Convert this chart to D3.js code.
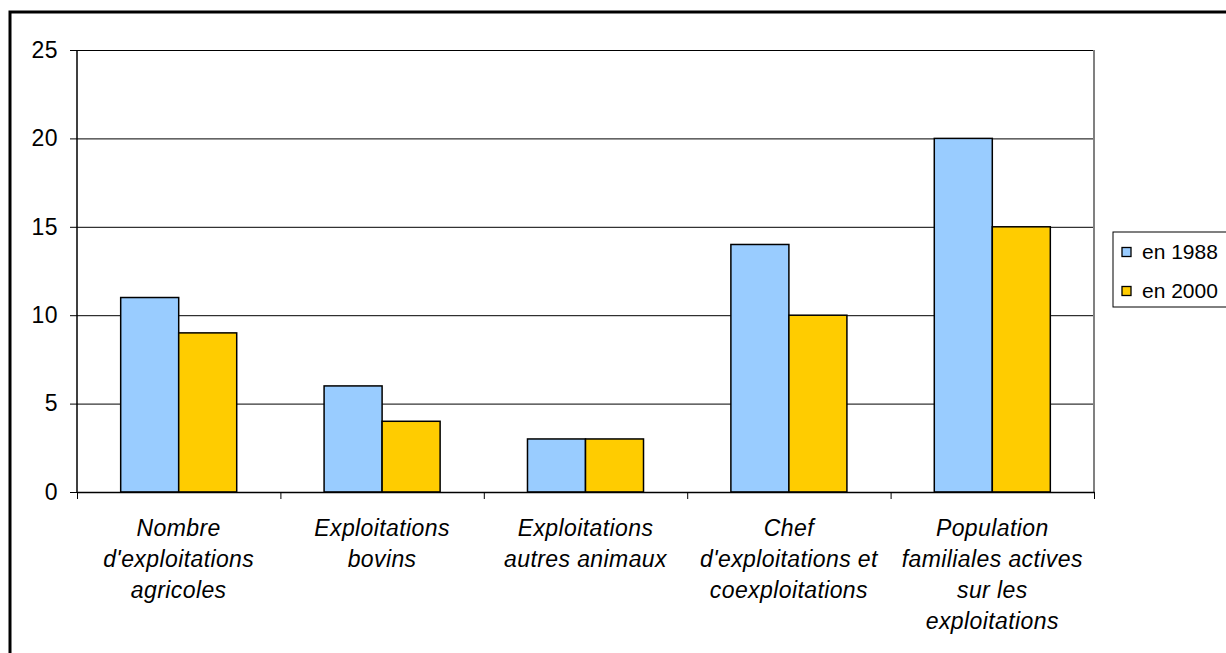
<!DOCTYPE html>
<html>
<head>
<meta charset="utf-8">
<script src="https://d3js.org/d3.v7.min.js"></script>
<style>
body { margin: 0; background: #fff; }
svg { display: block; }
.axis text { font-family: "Liberation Sans", Arial, sans-serif; font-size: 23px; fill: #000; letter-spacing: 0.5px; }
.axis path, .axis line { stroke: #000; }
.grid line { stroke: #000; stroke-width: 1; }
.grid path { display: none; }
.cat { font-family: "Liberation Sans", Arial, sans-serif; font-size: 23px; font-style: italic; fill: #000; letter-spacing: 0.4px; }
.legend text { font-family: "Liberation Sans", Arial, sans-serif; font-size: 21px; fill: #000; }
</style>
</head>
<body>
<svg width="1226" height="653"></svg>
<script>
// data
var categories = ["Nombre d'exploitations agricoles", "Exploitations bovins", "Exploitations autres animaux",
  "Chef d'exploitations et coexploitations", "Population familiales actives sur les exploitations"];
var categoryLines = [
  ["Nombre", "d'exploitations", "agricoles"],
  ["Exploitations", "bovins"],
  ["Exploitations", "autres animaux"],
  ["Chef", "d'exploitations et", "coexploitations"],
  ["Population", "familiales actives", "sur les", "exploitations"]
];
var seriesNames = ["en 1988", "en 2000"];
var values1988 = [11, 6, 3, 14, 20];
var values2000 = [9, 4, 3, 10, 15];
var yTicks = [0, 5, 10, 15, 20, 25];
var colors = ["#99CCFF", "#FFCC00"];

var svg = d3.select("svg");
var plotL = 77, plotR = 1094, plotT = 50, plotB = 492;

// outer frame
svg.append("rect")
  .attr("x", 10).attr("y", 12)
  .attr("width", 1400).attr("height", 800)
  .attr("fill", "none").attr("stroke", "#000").attr("stroke-width", 3);

var x0 = d3.scaleBand().domain(categories).range([plotL, plotR]).padding(0);
var x1 = d3.scaleBand().domain(seriesNames).range([0, x0.step()]).paddingInner(0).paddingOuter(0.753);
var y = d3.scaleLinear().domain([0, 25]).range([plotB, plotT]);

// gridlines
svg.append("g")
  .attr("class", "grid")
  .attr("transform", "translate(" + plotL + ",0)")
  .call(d3.axisLeft(y).tickValues(yTicks).tickSize(-(plotR - plotL)).tickFormat(""));

// plot right border
svg.append("line")
  .attr("x1", plotR).attr("x2", plotR).attr("y1", plotT).attr("y2", plotB)
  .attr("stroke", "#808080").attr("stroke-width", 2);

// bars
var data = categories.map(function(c, i) {
  return {cat: c, vals: [values1988[i], values2000[i]]};
});

var groups = svg.selectAll(".grp").data(data).enter().append("g")
  .attr("class", "grp")
  .attr("transform", d => "translate(" + x0(d.cat) + ",0)");

groups.selectAll("rect")
  .data(d => d.vals.map((v, j) => ({name: seriesNames[j], v: v, j: j})))
  .enter().append("rect")
  .attr("x", d => x1(d.name))
  .attr("y", d => y(d.v))
  .attr("width", x1.bandwidth())
  .attr("height", d => plotB - y(d.v))
  .attr("fill", d => colors[d.j])
  .attr("stroke", "#000")
  .attr("stroke-width", 1.5);

// y axis
var yAxis = svg.append("g")
  .attr("class", "axis")
  .attr("transform", "translate(" + plotL + ",0)")
  .call(d3.axisLeft(y).tickValues(yTicks).tickSize(7).tickPadding(12).tickFormat(d3.format("d")));
yAxis.select(".domain").remove();
svg.append("line")
  .attr("x1", plotL).attr("x2", plotL).attr("y1", plotT).attr("y2", plotB)
  .attr("stroke", "#000").attr("stroke-width", 1.5);

// x axis: ticks at category boundaries
var xb = d3.scaleLinear().domain([0, categories.length]).range([plotL, plotR]);
var xAxis = svg.append("g")
  .attr("class", "axis")
  .attr("transform", "translate(0," + plotB + ")")
  .call(d3.axisBottom(xb).ticks(categories.length).tickSize(7).tickSizeOuter(0).tickFormat(""));
xAxis.select(".domain").attr("stroke-width", 1.5);

// category labels
var labels = svg.selectAll(".cat").data(categories).enter().append("text")
  .attr("class", "cat")
  .attr("text-anchor", "middle")
  .attr("x", d => x0(d) + x0.bandwidth() / 2)
  .attr("y", 536);
labels.selectAll("tspan")
  .data((d, i) => categoryLines[i])
  .enter().append("tspan")
  .attr("x", function() { return d3.select(this.parentNode).attr("x"); })
  .attr("dy", (d, i) => i === 0 ? 0 : 31)
  .text(d => d);

// legend
var legend = svg.append("g").attr("class", "legend");
legend.append("rect")
  .attr("x", 1113).attr("y", 232).attr("width", 130).attr("height", 75)
  .attr("fill", "#fff").attr("stroke", "#000").attr("stroke-width", 1);
seriesNames.forEach(function(s, i) {
  legend.append("rect")
    .attr("x", 1122).attr("y", 247.5 + i * 39).attr("width", 9).attr("height", 9)
    .attr("fill", colors[i]).attr("stroke", "#000").attr("stroke-width", 1.3);
  legend.append("text")
    .attr("x", 1142).attr("y", 259 + i * 39)
    .text(s);
});
</script>
</body>
</html>
